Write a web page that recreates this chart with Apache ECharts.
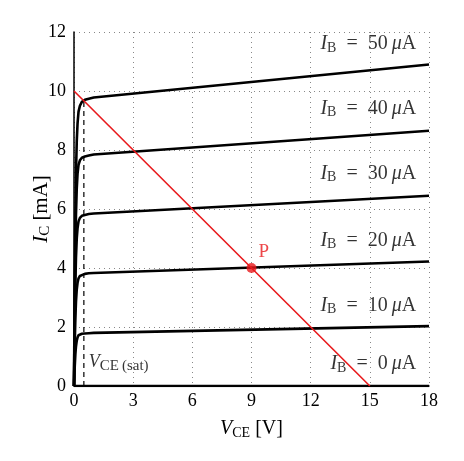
<!DOCTYPE html>
<html>
<head>
<meta charset="utf-8">
<script src="https://cdn.jsdelivr.net/npm/echarts@6/dist/echarts.min.js"></script>
<style>
    html, body { margin: 0; padding: 0; background: #fff; }
    #chart { width: 464px; height: 461px; }
</style>
</head>
<body>
<div id="chart"></div>
<script>
    // kennlinien
    const vce = [0, 0.02, 0.04, 0.07, 0.1, 0.14, 0.18, 0.23, 0.3, 0.4, 0.55, 0.75, 1, 18];
    const ibValues = [0, 10, 20, 30, 40, 50];
    const ic0 = [0, 0, 0, 0, 0, 0, 0, 0, 0, 0, 0, 0, 0, 0];
    const ic10 = [0, 0.38, 0.7, 1.08, 1.34, 1.54, 1.65, 1.72, 1.75, 1.77, 1.78, 1.79, 1.8, 2.03];
    const ic20 = [0, 0.8, 1.5, 2.3, 2.85, 3.27, 3.5, 3.65, 3.73, 3.78, 3.8, 3.82, 3.83, 4.22];
    const ic30 = [0, 1.2, 2.3, 3.5, 4.35, 5.0, 5.35, 5.58, 5.7, 5.77, 5.8, 5.83, 5.85, 6.45];
    const ic40 = [0, 1.6, 3.0, 4.6, 5.8, 6.7, 7.2, 7.5, 7.65, 7.74, 7.78, 7.81, 7.85, 8.65];
    const ic50 = [0, 2.0, 3.8, 5.8, 7.2, 8.3, 8.9, 9.3, 9.5, 9.63, 9.7, 9.74, 9.78, 10.9];
    const curves = [ic0, ic10, ic20, ic30, ic40, ic50];

    // arbeitsgerade + arbeitspunkt
    const loadV = [0, 15];
    const loadI = [10, 0];
    const qPoint = [9, 4];
    const vSat = 0.5;
    const satLineI = [0, 9.72];

    // beschriftung der kurven
    const labelV = 17.35;
    const labelI = [0.75, 2.73, 4.94, 7.2, 9.4, 11.59];

    const xTicks = [0, 3, 6, 9, 12, 15, 18];
    const yTicks = [0, 2, 4, 6, 8, 10, 12];

    const serif = '"Liberation Serif", "DejaVu Serif", serif';
    const red = '#e8191c';

    const sub = {
        i: {fontFamily: serif, fontSize: 20, fontStyle: 'italic', color: '#000'},
        s: {fontFamily: serif, fontSize: 14, color: '#000', padding: [8, 0, 0, 0]},
        n: {fontFamily: serif, fontSize: 20, color: '#000'}
    };
    const subY = {
        i: {fontFamily: serif, fontSize: 21, fontStyle: 'italic', color: '#000'},
        s: {fontFamily: serif, fontSize: 15, color: '#000', padding: [8, 0, 0, 0]},
        n: {fontFamily: serif, fontSize: 21, color: '#000'}
    };

    const chart = echarts.init(document.getElementById('chart'));

    let series = curves.map(function (ic, k) {
        return {
            name: 'IB' + ibValues[k],
            type: 'line',
            data: vce.map(function (v, j) { return [v, ic[j]]; }),
            showSymbol: false,
            lineStyle: {color: '#000', width: 2.6, join: 'round'},
            z: 3
        };
    });

    series.push({
        name: 'sat',
        type: 'line',
        data: satLineI.map(function (i) { return [vSat, i]; }),
        showSymbol: false,
        lineStyle: {color: '#000', width: 1.2, type: [5, 4]},
        z: 2
    });

    series.push({
        name: 'load',
        type: 'line',
        data: loadV.map(function (v, j) { return [v, loadI[j]]; }),
        showSymbol: false,
        lineStyle: {color: red, width: 1.6},
        z: 4
    });

    series.push({
        name: 'Q',
        type: 'scatter',
        data: [qPoint],
        symbolSize: 10,
        itemStyle: {color: red},
        label: {
            show: true,
            formatter: 'P',
            position: [12, -20],
            fontFamily: serif,
            fontSize: 19,
            color: red
        },
        z: 5
    });

    series.push({
        name: 'labels',
        type: 'scatter',
        data: labelI.map(function (i, k) { return [labelV, i, ibValues[k]]; }),
        symbolSize: 0,
        label: {
            show: true,
            position: [0, 0],
            align: 'right',
            verticalAlign: 'middle',
            formatter: function (p) {
                return '{i|I}{s|B}{n|\u2002=\u2002' + p.data[2] + '\u2009}{i|\u03bc}{n|A}';
            },
            rich: sub
        },
        z: 6
    });

    series.push({
        name: 'satlabel',
        type: 'scatter',
        data: [[0.75, 0.81]],
        symbolSize: 0,
        label: {
            show: true,
            position: [0, 0],
            align: 'left',
            verticalAlign: 'middle',
            formatter: '{i|V}{s|CE\u2009(sat)}',
            rich: {
                i: {fontFamily: serif, fontSize: 18, fontStyle: 'italic', color: '#000'},
                s: {fontFamily: serif, fontSize: 15, color: '#000', padding: [7, 0, 0, 0]}
            }
        },
        z: 6
    });

    chart.setOption({
        animation: false,
        grid: {left: 74, right: 35, top: 32, bottom: 75},
        xAxis: {
            type: 'value',
            min: 0,
            max: 18,
            interval: 3,
            name: '{i|V}{s|CE}{n| [V]}',
            nameLocation: 'middle',
            nameGap: 32,
            nameMoveOverlap: false,
            nameTextStyle: {rich: sub},
            axisLine: {lineStyle: {color: '#000', width: 1.5}},
            axisTick: {show: false},
            axisLabel: {
                fontFamily: serif, fontSize: 18, color: '#000', margin: 6,
                formatter: function (v) { return xTicks.indexOf(v) >= 0 ? String(v) : ''; }
            },
            splitLine: {show: true, lineStyle: {color: '#888', type: [1, 4], width: 1}}
        },
        yAxis: {
            type: 'value',
            min: 0,
            max: 12,
            interval: 2,
            name: '{i|I}{s|C}{n| [mA]}',
            nameLocation: 'middle',
            nameGap: 21,
            nameMoveOverlap: false,
            nameTextStyle: {rich: subY},
            axisLine: {show: true, lineStyle: {color: '#000', width: 1.5}},
            axisTick: {show: false},
            axisLabel: {
                fontFamily: serif, fontSize: 18, color: '#000', margin: 8,
                formatter: function (v) { return yTicks.indexOf(v) >= 0 ? String(v) : ''; }
            },
            splitLine: {show: true, lineStyle: {color: '#888', type: [1, 4], width: 1}}
        },
        series: series
    });
</script>
</body>
</html>
